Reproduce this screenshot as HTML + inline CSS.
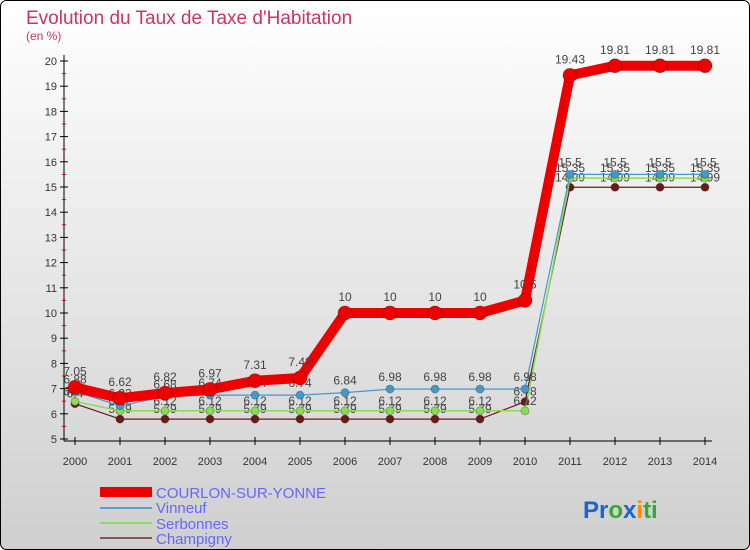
<!DOCTYPE html>
<html><head><meta charset="utf-8"><style>
body{margin:0;width:750px;height:550px;overflow:hidden;font-family:"Liberation Sans",sans-serif}
svg{display:block}
</style></head><body>
<svg id="c" width="750" height="550" xmlns="http://www.w3.org/2000/svg">
<defs><linearGradient id="bg" x1="0" y1="0" x2="0" y2="1"><stop offset="0" stop-color="#ffffff"/><stop offset="1" stop-color="#cfcfcf"/></linearGradient></defs>
<rect x="0.5" y="0.5" width="749" height="549" rx="6" fill="url(#bg)" stroke="#000"/>
<text x="26" y="24" font-size="19" fill="#cc3366">Evolution du Taux de Taxe d'Habitation</text>
<text x="26" y="40" font-size="12" fill="#cc3366">(en %)</text>
<g id="axes"></g><g id="series"></g>
<g>
<rect x="100" y="487" width="52" height="10" fill="#ee0000"/>
<text x="156" y="498" font-size="15" fill="#6666ff">COURLON-SUR-YONNE</text>
<line x1="100" y1="508" x2="152" y2="508" stroke="#6699cc" stroke-width="2"/>
<text x="156" y="513" font-size="15" fill="#6666ff">Vinneuf</text>
<line x1="100" y1="523" x2="152" y2="523" stroke="#88dd66" stroke-width="2"/>
<text x="156" y="529" font-size="15" fill="#6666ff">Serbonnes</text>
<line x1="100" y1="538" x2="152" y2="538" stroke="#885555" stroke-width="2"/>
<text x="156" y="544" font-size="15" fill="#6666ff">Champigny</text>
</g>
<text x="583" y="518" font-size="24" font-weight="bold"><tspan fill="#1a66cc">Pr</tspan><tspan fill="#33aa33">o</tspan><tspan fill="#1a66cc">x</tspan><tspan fill="#ff8800">i</tspan><tspan fill="#33aa33">ti</tspan></text>
</svg>
<script>
const years=[2000,2001,2002,2003,2004,2005,2006,2007,2008,2009,2010,2011,2012,2013,2014];
const courlon=[7.05,6.62,6.82,6.97,7.31,7.42,10,10,10,10,10.5,19.43,19.81,19.81,19.81];
const vinneuf=[6.88,6.32,6.68,6.74,6.74,6.74,6.84,6.98,6.98,6.98,6.98,15.5,15.5,15.5,15.5];
const serbonnes=[6.49,6.12,6.12,6.12,6.12,6.12,6.12,6.12,6.12,6.12,6.12,15.35,15.35,15.35,15.35];
const champigny=[6.4,5.79,5.79,5.79,5.79,5.79,5.79,5.79,5.79,5.79,6.48,14.99,14.99,14.99,14.99];
const yTicks=[5,6,7,8,9,10,11,12,13,14,15,16,17,18,19,20];
const NS="http://www.w3.org/2000/svg";
const X=i=>75+i*45, Y=v=>439-(v-5)*25.2;
function mk(tag,attrs,parent,txt){const e=document.createElementNS(NS,tag);for(const k in attrs)e.setAttribute(k,attrs[k]);if(txt!==undefined)e.textContent=txt;parent.appendChild(e);return e;}
const ax=document.getElementById('axes'), sg=document.getElementById('series');
let a=mk('line',{x1:64,y1:55,x2:64,y2:441,stroke:'#000'},ax);


a=mk('line',{x1:64,y1:441,x2:712,y2:441,stroke:'#000'},ax);


yTicks.forEach(v=>{
  let t=mk('line',{x1:60,y1:Y(v),x2:68,y2:Y(v),stroke:'#000'},ax);
  
  
  if(v<20){let h=mk('line',{x1:62,y1:Y(v+0.5),x2:66,y2:Y(v+0.5),stroke:'#e00'},ax);
  
  }
  let l=mk('text',{x:57,y:Y(v)+4,'font-size':11,'text-anchor':'end',fill:'#333'},ax,String(v));
  
  
});
years.forEach((yr,i)=>{
  let t=mk('line',{x1:X(i),y1:437,x2:X(i),y2:445,stroke:'#000'},ax);
  
  
  let l=mk('text',{x:X(i),y:465,'font-size':11,'text-anchor':'middle',fill:'#333'},ax,String(yr));
  
  
});
function series(vals,color,w,r,name,labelDy){
  const g=mk('g',{},sg);
  
  
  const p=mk('polyline',{points:vals.map((v,i)=>X(i)+','+Y(v)).join(' '),fill:'none',stroke:color,'stroke-width':w,'stroke-linejoin':'round'},g);
  
  
  vals.forEach((v,i)=>{
    const c=mk('circle',{cx:X(i),cy:Y(v),r:r,fill:color,stroke:'rgba(0,0,0,0.25)'},g);
    
    
    const t=mk('text',{x:X(i),y:Y(v)+labelDy,'font-size':12,'text-anchor':'middle',fill:'#444'},g,String(v));
    
    
  });
}
series(champigny,'#6b1a1a',1.2,4,'champigny',-6);
series(serbonnes,'#88dd55',1.5,4,'serbonnes',-6);
series(vinneuf,'#4499cc',1.2,4,'vinneuf',-8);
series(courlon,'#ee0000',10,7,'courlon',-12);
</script>
</body></html>
